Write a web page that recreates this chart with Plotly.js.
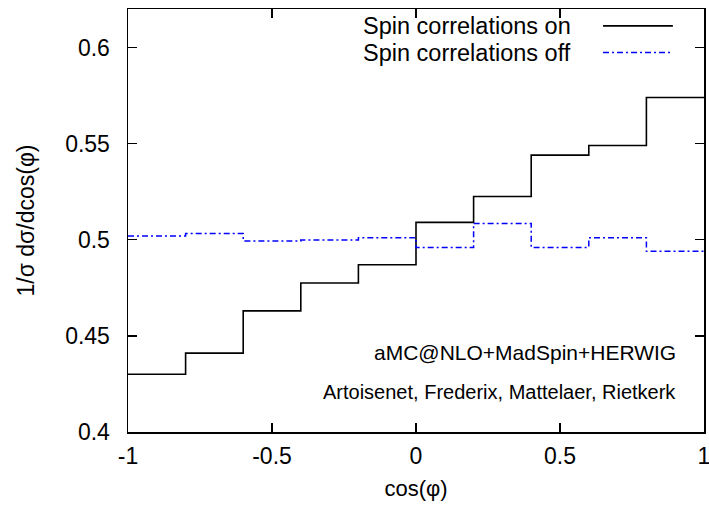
<!DOCTYPE html>
<html>
<head>
<meta charset="utf-8">
<script src="https://cdn.plot.ly/plotly-3.0.1.min.js"></script>
<style>html,body{margin:0;padding:0;background:#fff;}#chart{width:709px;height:510px;}</style>
</head>
<body>
<div id="chart"></div>
<script>
// Bin edges in cos(phi)
const binEdges = [-1, -0.8, -0.6, -0.4, -0.2, 0, 0.2, 0.4, 0.6, 0.8, 1];
// Series values (one per bin)
const spinOn  = [0.430, 0.441, 0.463, 0.4775, 0.487, 0.509, 0.5225, 0.544, 0.549, 0.574];
const spinOff = [0.502, 0.5032, 0.4994, 0.4999, 0.501, 0.496, 0.5085, 0.496, 0.501, 0.494];
const seriesNames = ["Spin correlations on", "Spin correlations off"];
const xTicks = [-1, -0.5, 0, 0.5, 1];
const xTickLabels = ["-1", "-0.5", "0", "0.5", "1"];
const yTicks = [0.4, 0.45, 0.5, 0.55, 0.6];
const yTickLabels = ["0.4", "0.45", "0.5", "0.55", "0.6"];
const notes = ["aMC@NLO+MadSpin+HERWIG", "Artoisenet, Frederix, Mattelaer, Rietkerk"];

const FONT = "Liberation Sans, Arial, sans-serif";
const stepY = v => v.concat([v[v.length - 1]]);
const BLUE_DASH = "6px,3px,2px,3px";

const traces = [
  {x: binEdges, y: stepY(spinOn), mode: "lines", line: {shape: "hv", color: "#000000", width: 1.6}, name: seriesNames[0], showlegend: false, hoverinfo: "skip"},
  {x: binEdges, y: stepY(spinOff), mode: "lines", line: {shape: "hv", color: "#0000ff", width: 1.5, dash: BLUE_DASH}, name: seriesNames[1], showlegend: false, hoverinfo: "skip"}
];

const axisCommon = {
  showline: true, linecolor: "#000", linewidth: 1.5, mirror: "ticks",
  ticks: "inside", ticklen: 9, tickwidth: 1.5, tickcolor: "#000",
  showgrid: false, zeroline: false, tickmode: "array", ticklabeloverflow: "allow",
  tickfont: {family: FONT, size: 23, color: "#000"}
};

const legX0 = 0.406, sampleX0 = 0.8247, sampleX1 = 0.946;
const legY = [0.960, 0.897];

const layout = {
  width: 709, height: 510,
  margin: {l: 128, r: 5, t: 9, b: 78},
  paper_bgcolor: "#fff", plot_bgcolor: "#fff",
  font: {family: FONT, color: "#000"},
  xaxis: Object.assign({}, axisCommon, {
    range: [-1, 1], tickvals: xTicks, ticktext: xTickLabels, ticklabelstandoff: 3,
    title: {text: "cos(φ)", font: {family: FONT, size: 22, color: "#000"}, standoff: 12}
  }),
  yaxis: Object.assign({}, axisCommon, {
    range: [0.4, 0.62], tickvals: yTicks, ticktext: yTickLabels, ticklabelstandoff: 12,
    title: {text: "1/σ dσ/dcos(φ)", font: {family: FONT, size: 23, color: "#000"}, standoff: 24}
  }),
  shapes: [
    {type: "line", xref: "paper", yref: "paper", x0: sampleX0, x1: sampleX1, y0: legY[0], y1: legY[0], line: {color: "#000", width: 1.6}},
    {type: "line", xref: "paper", yref: "paper", x0: sampleX0, x1: sampleX1, y0: legY[1], y1: legY[1], line: {color: "#0000ff", width: 1.5, dash: BLUE_DASH}}
  ],
  annotations: [
    {text: seriesNames[0], xref: "paper", yref: "paper", x: legX0, y: legY[0], xanchor: "left", yanchor: "middle", showarrow: false, borderpad: 0, font: {family: FONT, size: 23.5, color: "#000"}},
    {text: seriesNames[1], xref: "paper", yref: "paper", x: legX0, y: legY[1], xanchor: "left", yanchor: "middle", showarrow: false, borderpad: 0, font: {family: FONT, size: 23.5, color: "#000"}},
    {text: notes[0], xref: "paper", yref: "paper", x: 0.954, y: 0.187, xanchor: "right", yanchor: "middle", showarrow: false, font: {family: FONT, size: 21, color: "#000"}},
    {text: notes[1], xref: "paper", yref: "paper", x: 0.954, y: 0.0953, xanchor: "right", yanchor: "middle", showarrow: false, font: {family: FONT, size: 20, color: "#000"}}
  ]
};

Plotly.newPlot("chart", traces, layout, {staticPlot: true, displayModeBar: false});
</script>
</body>
</html>
